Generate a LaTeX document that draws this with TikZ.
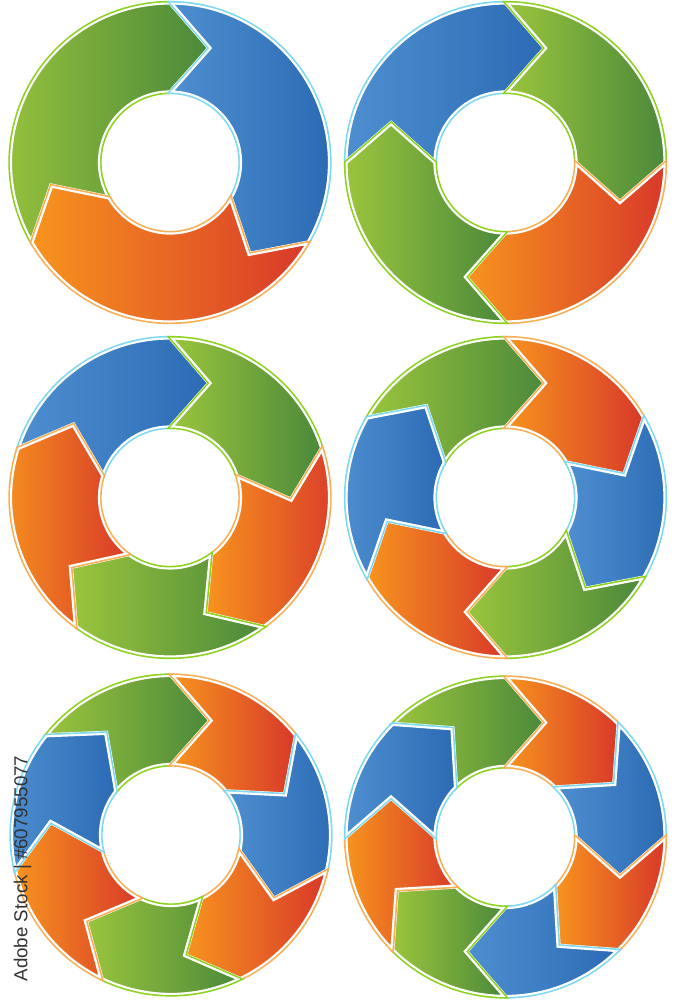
\documentclass[tikz,border=0pt]{standalone}
\usepackage{fontspec}
\setmainfont{Liberation Sans}
\usetikzlibrary{positioning}

\definecolor{cgreenL}{HTML}{9AC53C}
\definecolor{cgreenR}{HTML}{4B893B}
\definecolor{cgreenE}{HTML}{8CD21E}
\definecolor{cblueL}{HTML}{4E8FD0}
\definecolor{cblueR}{HTML}{2C6BB4}
\definecolor{cblueE}{HTML}{7DD8F0}
\definecolor{corangeL}{HTML}{F7941E}
\definecolor{corangeR}{HTML}{D8392A}
\definecolor{corangeE}{HTML}{F9AE55}

\tikzset{
x=0.03cm, y=0.03cm, % one unit is one pixel of the layout
seg edge/.style={line width=2.8pt, line join=miter}, % coloured rim of a segment
seg rim/.style={white, line width=3.6pt, line join=miter}, % white line just inside the rim
}

% one arrow segment of a ring: #1 head angle, #2 span, #3 colour prefix
\newcommand{\cyclearrow}[3]{%
  \pgfmathsetmacro{\tailang}{#1+#2}
  \def\segpath{(\tailang:160) arc[start angle=\tailang, end angle=#1, radius=160]
    -- (#1-19:121) -- (#1:70) arc[start angle=#1, end angle=\tailang, radius=70]
    -- (\tailang-19:121) -- cycle}
  \path[left color=#3L, right color=#3R] \segpath;
  \draw[seg edge, draw=#3E] \segpath;
  \begin{scope}
    \clip \segpath;
    \draw[seg rim] \segpath;
  \end{scope}
}

\begin{document}
\begin{tikzpicture}
  \fill[white] (0,0) rectangle (678,1000);
  \useasboundingbox (0,0) rectangle (678,1000);

  % three segments
  \begin{scope}[shift={(170,837.5)}]
    \foreach \ang/\col in {90/cgreen, -30/cblue, 210/corange}
      \cyclearrow{\ang}{120}{\col};
  \end{scope}

  % four segments
  \begin{scope}[shift={(505.5,837.5)}]
    \foreach \ang/\col in {90/cblue, 0/cgreen, -90/corange, 180/cgreen}
      \cyclearrow{\ang}{90}{\col};
  \end{scope}

  % five segments
  \begin{scope}[shift={(170,502.5)}]
    \foreach \ang/\col in {90/cblue, 18/cgreen, -54/corange, -126/cgreen, 162/corange}
      \cyclearrow{\ang}{72}{\col};
  \end{scope}

  % six segments
  \begin{scope}[shift={(505.5,502.5)}]
    \foreach \ang/\col in {90/cgreen, 30/corange, -30/cblue, -90/cgreen, 210/corange, 150/cblue}
      \cyclearrow{\ang}{60}{\col};
  \end{scope}

  % seven segments
  \begin{scope}[shift={(171,165)}]
    \foreach \ang/\col in {90/cgreen, 38.57/corange, -12.86/cblue, -64.29/corange,
                           -115.71/cgreen, -167.14/corange, 141.43/cblue}
      \cyclearrow{\ang}{51.43}{\col};
  \end{scope}

  % eight segments
  \begin{scope}[shift={(505.5,163)}]
    \foreach \ang/\col in {90/cgreen, 45/corange, 0/cblue, -45/corange,
                           -90/cblue, -135/cgreen, 180/corange, 135/cblue}
      \cyclearrow{\ang}{45}{\col};
  \end{scope}

  \node[rotate=90, text=black!80, font=\fontsize{16}{16}\selectfont, inner sep=0pt]
    (stocktag) at (22.5,131.5) {Adobe Stock | \#607955077};
\end{tikzpicture}
\end{document}
